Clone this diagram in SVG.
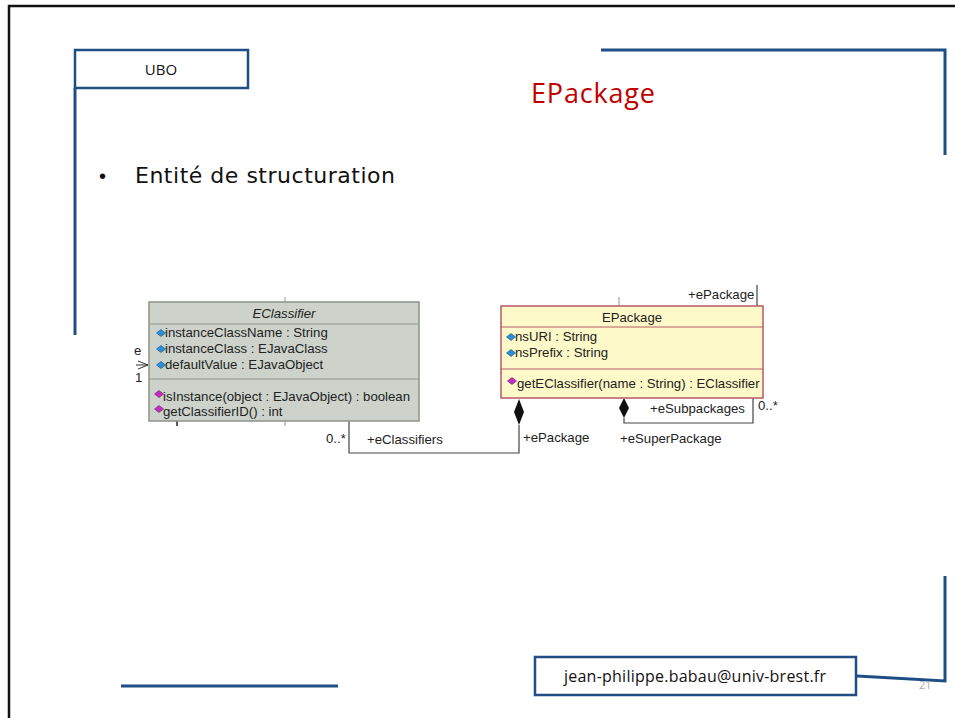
<svg xmlns="http://www.w3.org/2000/svg" width="955" height="718" viewBox="0 0 955 718">
  <style>
    .frame { fill: none; stroke: #1f4e85; stroke-width: 3; }
    .uml { font-family: "Liberation Sans", Arial, sans-serif; font-size: 13.2px; fill: #222; }
    .conn { fill: none; stroke: #444; stroke-width: 1.2; }
    .tick { stroke: #999; stroke-width: 1; }
    .attr { fill: #2a8fd6; stroke: #10507a; stroke-width: 0.6; }
    .op { fill: #c030c0; stroke: #701070; stroke-width: 0.6; }
  </style>
  <defs>
    <path id="diamond" d="M0,-3.5 L4.5,0 L0,3.5 L-4.5,0 Z"/>
  </defs>
  <rect width="955" height="718" fill="#fff"/>

  <!-- slide border -->
  <path d="M9,718 V6 H955" fill="none" stroke="#111" stroke-width="2.5"/>

  <!-- blue frame decorations -->
  <g id="frame">
    <path class="frame" d="M75,88 V335"/>
    <path class="frame" d="M601,50 H945 V155"/>
    <path class="frame" d="M945,576 V681 L857,676"/>
    <path class="frame" d="M121,686 H338"/>
  </g>

  <g id="ubo">
    <rect x="75" y="50" width="173" height="38" fill="#fff" stroke="#1f4e85" stroke-width="2.5"/>
    <text x="161" y="75" font-family="Open Sans, Noto Sans, sans-serif" font-size="15" text-anchor="middle" fill="#111">UBO</text>
  </g>

  <g id="title">
    <text x="531" y="103" font-family="Open Sans, Noto Sans, sans-serif" font-size="27" fill="#c00000" textLength="124">EPackage</text>
  </g>

  <g id="bullet">
    <text x="99" y="183" font-family="Liberation Sans, Arial, sans-serif" font-size="20" fill="#111">•</text>
    <text x="135" y="183" font-family="DejaVu Sans, sans-serif" font-size="22" fill="#111" textLength="260">Entité de structuration</text>
  </g>

  <!-- connectors -->
  <g id="connectors">
    <path class="conn" d="M349,421 V453 H519 V425"/>
    <path d="M519,399 L524,412 L519,425 L514,412 Z" fill="#111"/>
    <path class="conn" d="M624,418 V423 H753 V398"/>
    <path d="M624,398 L629,408 L624,418 L619,408 Z" fill="#111"/>
    <path class="conn" d="M757,285 V306" stroke="#888"/>
    <line class="tick" x1="619" y1="297" x2="619" y2="306"/>
    <line class="tick" x1="285" y1="297" x2="285" y2="302"/>
    <line class="tick" x1="285" y1="421" x2="285" y2="426"/>
    <line x1="177" y1="421" x2="177" y2="426" stroke="#222" stroke-width="1.5"/>
    <path d="M138,361 L148,365 L138,369" fill="none" stroke="#333" stroke-width="1"/>
    <line x1="136" y1="365" x2="148" y2="365" stroke="#333" stroke-width="1"/>
    <text class="uml" x="134" y="355" font-size="10">e</text>
    <text class="uml" x="135" y="382" font-size="11">1</text>
    <text class="uml" x="326" y="443" font-size="11">0..*</text>
    <text class="uml" x="367" y="444">+eClassifiers</text>
    <text class="uml" x="523" y="442">+ePackage</text>
    <text class="uml" x="650" y="413">+eSubpackages</text>
    <text class="uml" x="758" y="410" font-size="11">0..*</text>
    <text class="uml" x="620" y="443">+eSuperPackage</text>
    <text class="uml" x="688" y="299">+ePackage</text>
  </g>

  <g id="EClassifier">
    <rect x="149" y="302" width="270" height="119" fill="#cdd3cb" stroke="#8d938b" stroke-width="1.5"/>
    <line x1="149" y1="324" x2="419" y2="324" stroke="#8d938b" stroke-width="1.2"/>
    <line x1="149" y1="379" x2="419" y2="379" stroke="#8d938b" stroke-width="1.2"/>
    <text class="uml" x="284" y="318" text-anchor="middle" font-style="italic">EClassifier</text>
    <use href="#diamond" class="attr" x="161" y="333"/>
    <use href="#diamond" class="attr" x="161" y="349"/>
    <use href="#diamond" class="attr" x="161" y="365"/>
    <text class="uml" x="165" y="337">instanceClassName : String</text>
    <text class="uml" x="165" y="353">instanceClass : EJavaClass</text>
    <text class="uml" x="165" y="369">defaultValue : EJavaObject</text>
    <use href="#diamond" class="op" x="159" y="394"/>
    <use href="#diamond" class="op" x="159" y="409"/>
    <text class="uml" x="163" y="401">isInstance(object : EJavaObject) : boolean</text>
    <text class="uml" x="163" y="416">getClassifierID() : int</text>
  </g>

  <g id="EPackage">
    <rect x="501" y="306" width="262" height="92" fill="#fdf9c8" stroke="#b85a68" stroke-width="1.5"/>
    <line x1="501" y1="327" x2="763" y2="327" stroke="#b85a68" stroke-width="1.2"/>
    <line x1="501" y1="369" x2="763" y2="369" stroke="#b85a68" stroke-width="1.2"/>
    <text class="uml" x="632" y="322" text-anchor="middle">EPackage</text>
    <use href="#diamond" class="attr" x="511" y="337"/>
    <use href="#diamond" class="attr" x="511" y="353"/>
    <text class="uml" x="515" y="341">nsURI : String</text>
    <text class="uml" x="515" y="357">nsPrefix : String</text>
    <use href="#diamond" class="op" x="512" y="381"/>
    <text class="uml" x="517" y="388">getEClassifier(name : String) : EClassifier</text>
  </g>

  <g id="email">
    <rect x="535" y="657" width="321" height="38" fill="#fff" stroke="#1f4e85" stroke-width="2.5"/>
    <text x="695" y="682" font-family="Open Sans, Noto Sans, sans-serif" font-size="16" text-anchor="middle" fill="#111" textLength="262">jean-philippe.babau@univ-brest.fr</text>
  </g>
  <text x="919" y="689" font-family="Open Sans, sans-serif" font-size="11" fill="#aaa">21</text>
</svg>
